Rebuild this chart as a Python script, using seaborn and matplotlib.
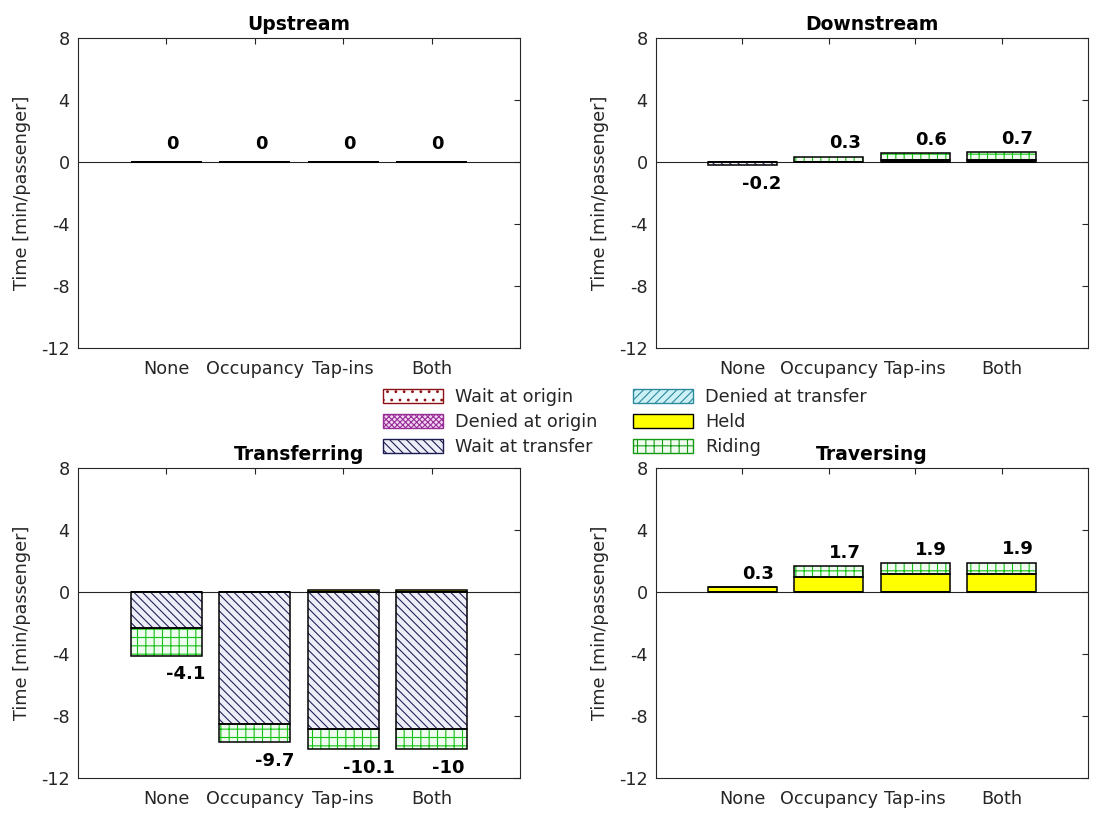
import numpy as np
import pandas as pd
import matplotlib
matplotlib.use("Agg")
import matplotlib.pyplot as plt
from matplotlib.patches import Patch
import seaborn as sns

# ---------------- data ----------------
categories = ["None", "Occupancy", "Tap-ins", "Both"]
components = ["Wait at origin", "Denied at origin", "Wait at transfer",
              "Denied at transfer", "Held", "Riding"]
panel_titles = ["Upstream", "Downstream", "Transferring", "Traversing"]

# rows follow `components`, columns follow `categories`  [min/passenger]
upstream = [[0, 0, 0, 0],
            [0, 0, 0, 0],
            [0, 0, 0, 0],
            [0, 0, 0, 0],
            [0, 0, 0, 0],
            [0, 0, 0, 0]]
downstream = [[0, 0, 0, 0],
              [0, 0, 0, 0],
              [-0.2, 0, 0.15, 0.15],
              [0, 0, 0, 0],
              [0, 0, 0, 0],
              [0, 0.35, 0.45, 0.5]]
transferring = [[0, 0, 0, 0],
                [0, 0, 0, 0],
                [-2.35, -8.5, -8.85, -8.85],
                [0, 0, 0, 0],
                [0, 0, 0.15, 0.15],
                [-1.75, -1.2, -1.3, -1.3]]
traversing = [[0, 0, 0, 0],
              [0, 0, 0, 0],
              [0, 0, 0, 0],
              [0, 0, 0, 0],
              [0.3, 1.0, 1.15, 1.15],
              [0, 0.65, 0.7, 0.75]]

upstream_labels = ["0", "0", "0", "0"]
downstream_labels = ["-0.2", "0.3", "0.6", "0.7"]
transferring_labels = ["-4.1", "-9.7", "-10.1", "-10"]
traversing_labels = ["0.3", "1.7", "1.9", "1.9"]

y_ticks = [8, 4, 0, -4, -8, -12]

# ---------------- styles ----------------
face = {"Wait at origin": "#ffffff", "Denied at origin": "#f4d4f4",
        "Wait at transfer": "#eeeef8", "Denied at transfer": "#cdf0f6",
        "Held": "#ffff00", "Riding": "#effcef"}
hatch_col = {"Wait at origin": "#b3141c", "Denied at origin": "#b23cb2",
             "Wait at transfer": "#24245e", "Denied at transfer": "#3aa2b6",
             "Held": "#000000", "Riding": "#12c012"}
legend_edge = {"Wait at origin": "#8c0f14", "Denied at origin": "#962e96",
               "Wait at transfer": "#1c1c50", "Denied at transfer": "#2c8a9c",
               "Held": "#000000", "Riding": "#129a12"}
hatches = {"Wait at origin": "..", "Denied at origin": "xxxxxx",
           "Wait at transfer": "\\\\\\\\", "Denied at transfer": "////",
           "Held": None, "Riding": "++"}

sns.set_theme(style="white")
plt.rcParams["font.family"] = ["DejaVu Sans"]
plt.rcParams["axes.unicode_minus"] = False
plt.rcParams["hatch.linewidth"] = 0.8
FS = 12.7
TXT = "#262626"

fig = plt.figure(figsize=(10.94, 8.14), dpi=100)
W, H = 1094, 814


def add_ax(left, right, top, bottom):
    return fig.add_axes([left / W, 1 - bottom / H, (right - left) / W, (bottom - top) / H])


axes = [add_ax(78, 520, 38, 348), add_ax(656, 1088, 38, 348),
        add_ax(78, 520, 468, 778), add_ax(656, 1088, 468, 778)]
panels = [upstream, downstream, transferring, traversing]
panel_labels = [upstream_labels, downstream_labels, transferring_labels, traversing_labels]


def draw_panel(ax, values, labels, title):
    vals = np.array(values, dtype=float)
    pos_base = np.zeros(len(categories))
    neg_base = np.zeros(len(categories))
    ax.axhline(0, color=TXT, lw=0.8, zorder=1)
    for comp, row in zip(components, vals):
        bottom = np.where(row >= 0, pos_base, neg_base)
        df = pd.DataFrame({"cat": categories, "val": row})
        sns.barplot(data=df, x="cat", y="val", order=categories, errorbar=None,
                    width=0.8, ax=ax, bottom=bottom, zorder=3, color=face[comp],
                    saturation=1, facecolor=face[comp], edgecolor=hatch_col[comp],
                    linewidth=0, hatch=hatches[comp])
        sns.barplot(data=df, x="cat", y="val", order=categories, errorbar=None,
                    width=0.8, ax=ax, bottom=bottom, zorder=4, color="white",
                    saturation=1, facecolor="none", edgecolor="black", linewidth=1.1)
        pos_base = pos_base + np.where(row > 0, row, 0)
        neg_base = neg_base + np.where(row < 0, row, 0)
    totals = vals.sum(axis=0)
    for i, lab in enumerate(labels):
        if totals[i] >= 0:
            y = max(pos_base[i] + 0.85, 1.15)
        else:
            y = neg_base[i] - 1.2
        ax.text(i, y, lab, ha="left", va="center", fontweight="bold",
                fontsize=13, color="black", zorder=5)

    ax.set_xlim(-1, len(categories))
    ax.set_ylim(-12, 8)
    ax.set_yticks(y_ticks)
    ax.set_yticklabels([str(t) for t in y_ticks])
    ax.set_xticks(range(len(categories)))
    ax.set_xticklabels(categories)
    ax.set_xlabel("")
    ax.set_ylabel("Time [min/passenger]", fontsize=FS, color=TXT, labelpad=7)
    ax.set_title(title, fontweight="bold", fontsize=13.5, color="black", pad=6)
    for s in ax.spines.values():
        s.set_visible(True)
        s.set_color(TXT)
        s.set_linewidth(0.8)
    ax.tick_params(direction="in", top=True, right=True, length=4, width=0.8,
                   colors=TXT, labelsize=FS)
    ax.tick_params(axis="x", pad=9)
    ax.tick_params(axis="y", pad=6)
    ax.grid(False)


for ax, vals, labs, title in zip(axes, panels, panel_labels, panel_titles):
    draw_panel(ax, vals, labs, title)

handles = [Patch(facecolor=face[c], edgecolor=legend_edge[c], hatch=hatches[c],
                 linewidth=1.0) for c in components]
fig.legend(handles, components, ncol=2, loc="upper left",
           bbox_to_anchor=(383 / W, 1 - 388 / H), frameon=False, borderpad=0,
           borderaxespad=0, handlelength=3.4, handleheight=0.9, handletextpad=0.7,
           columnspacing=2.0, labelspacing=0.4, fontsize=FS, labelcolor=TXT)

fig.savefig("out.png", dpi=100)
